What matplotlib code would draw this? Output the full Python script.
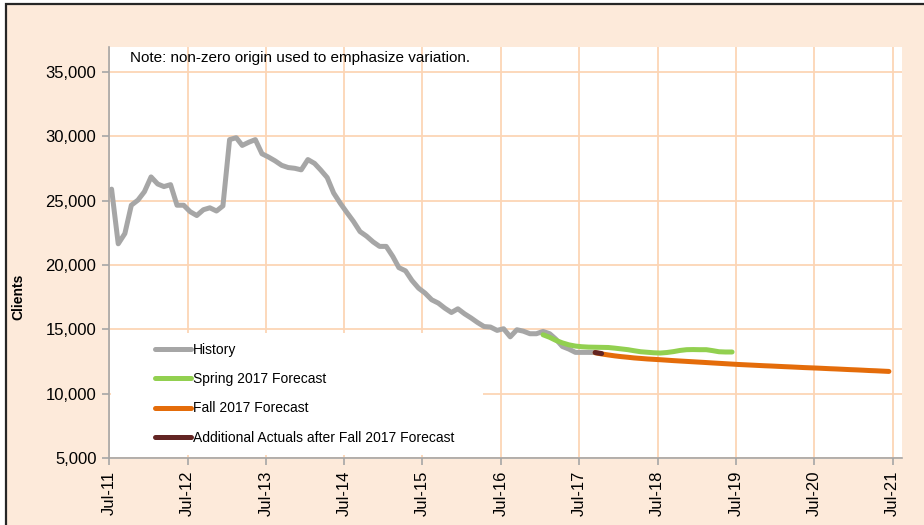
import numpy as np
import pandas as pd
import matplotlib
matplotlib.use("Agg")
import matplotlib.pyplot as plt
from matplotlib.patches import Rectangle
from matplotlib.ticker import FuncFormatter

plt.rcParams['font.family'] = ['Liberation Sans', 'DejaVu Sans']

# monthly client counts
history = [25900, 21650, 22450, 24650, 25050, 25700, 26850, 26300, 26100, 26250, 24650, 24650,
           24150, 23850, 24300, 24450, 24200, 24600, 29750, 29900, 29300, 29550, 29750, 28650,
           28400, 28100, 27750, 27580, 27520, 27400, 28200, 27900, 27400, 26800, 25600, 24800,
           24100, 23400, 22600, 22250, 21800, 21450, 21450, 20660, 19800, 19550, 18800, 18200,
           17820, 17300, 17040, 16650, 16310, 16600, 16210, 15880, 15540, 15220, 15180, 14920,
           15050, 14420, 14970, 14860, 14660, 14660, 14840, 14660, 14250, 13670, 13470, 13210,
           13210, 13210, 13200]
history_start = "2011-07-01"

spring = [14580, 14380, 14150, 13950, 13800, 13700, 13650, 13620, 13610, 13600, 13590, 13540,
          13480, 13420, 13340, 13260, 13220, 13180, 13160, 13200, 13270, 13360, 13420, 13430,
          13420, 13420, 13350, 13260, 13240, 13240]
spring_start = "2017-01-01"

fall = [13180, 13090, 13010, 12940, 12880, 12830, 12780, 12740, 12700, 12670, 12640,
        12605, 12570, 12540, 12510, 12480, 12450, 12420, 12390, 12360, 12330, 12300, 12270,
        12245, 12220, 12195, 12170, 12150, 12125, 12100, 12080, 12055, 12030, 12010, 11990,
        11965, 11940, 11920, 11895, 11870, 11850, 11825, 11800, 11780, 11755, 11730]
fall_start = "2017-09-01"

actuals = [13200, 13120]
actuals_start = "2017-09-01"

tick_years = ["2011-07-01", "2012-07-01", "2013-07-01", "2014-07-01", "2015-07-01", "2016-07-01",
              "2017-07-01", "2018-07-01", "2019-07-01", "2020-07-01", "2021-07-01"]


def months(start, n):
    # points sit a little after the first of the month, as in the source chart
    return pd.date_range(start, periods=n, freq="MS") + pd.Timedelta(days=12)


W, H = 924, 525
fig = plt.figure(figsize=(W / 100, H / 100), dpi=100, facecolor="white")
fig.patches.append(Rectangle((6 / W, -0.05), 1.1, 1.05 - 4 / H, transform=fig.transFigure,
                             facecolor="#FDEADA", edgecolor="#262626", lw=1.6, zorder=-10))

ax = fig.add_axes([109 / W, (H - 458) / H, (902 - 109) / W, (458 - 47) / H])
ax.set_facecolor("white")

lw = 3.6
ax.plot(months(history_start, len(history)), history, color="#A6A6A6", lw=lw,
        solid_capstyle="round", solid_joinstyle="round", label="History", zorder=3)
ax.plot(months(spring_start, len(spring)), spring, color="#92D050", lw=lw,
        solid_capstyle="round", solid_joinstyle="round", label="Spring 2017 Forecast", zorder=4)
ax.plot(months(fall_start, len(fall)), fall, color="#E46C0A", lw=lw,
        solid_capstyle="round", solid_joinstyle="round", label="Fall 2017 Forecast", zorder=5)
ax.plot(months(actuals_start, len(actuals)), actuals, color="#632523", lw=lw,
        solid_capstyle="round", solid_joinstyle="round",
        label="Additional Actuals after Fall 2017 Forecast", zorder=6)

ax.set_xlim(pd.Timestamp("2011-07-01"), pd.Timestamp("2021-08-13"))
ax.set_ylim(5000, 36950)

ticks = pd.to_datetime(tick_years)
ax.set_xticks(ticks)
ax.set_xticklabels([t.strftime("%b-%y") for t in ticks], rotation=90, fontsize=12)
ax.set_yticks(np.arange(5000, 35001, 5000))
ax.yaxis.set_major_formatter(FuncFormatter(lambda v, p: f"{int(v):,}"))

ax.grid(True, color="#FCD5B5", lw=1.3)
ax.set_axisbelow(True)
for s in ["top", "right"]:
    ax.spines[s].set_visible(False)
for s in ["left", "bottom"]:
    ax.spines[s].set_color("#A6A6A6")
    ax.spines[s].set_linewidth(1.2)
ax.tick_params(axis="both", colors="#A6A6A6", length=5, width=1.2, labelsize=12,
               labelcolor="black", pad=4)

# white legend area hides the gridlines behind it
ax.add_patch(Rectangle((0.002, 0.007), 0.47, 0.297, transform=ax.transAxes,
                       facecolor="white", edgecolor="none", zorder=1))
ax.legend(loc="upper left", bbox_to_anchor=(0.058, 0.280), frameon=False, fontsize=10,
          handlelength=2.6, handletextpad=0.15, labelspacing=1.1, borderpad=0,
          borderaxespad=0)

ax.text(0.0265, 0.973, "Note: non-zero origin used to emphasize variation.",
        transform=ax.transAxes, fontsize=11, va="center", ha="left")
fig.text(18 / W, 1 - 297 / H, "Clients", rotation=90, fontsize=10, fontweight="bold",
         va="center", ha="center")

fig.savefig("out.png", dpi=100, facecolor=fig.get_facecolor())
